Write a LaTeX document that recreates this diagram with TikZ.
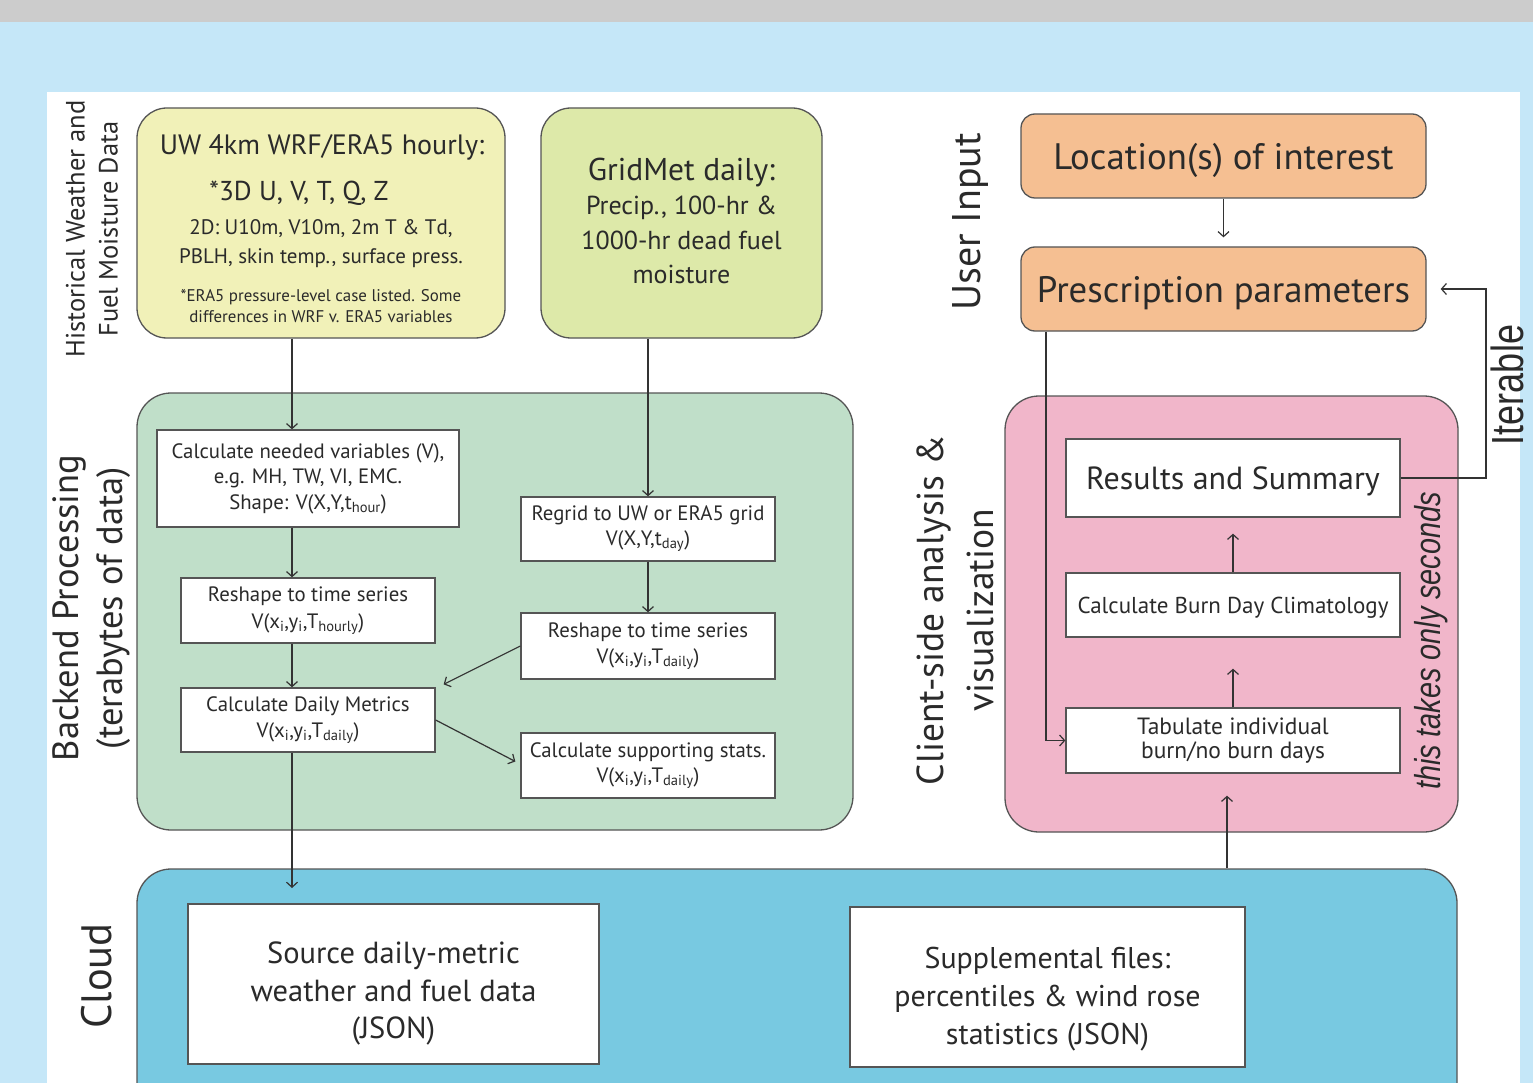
\documentclass[tikz,border=0pt]{standalone}
\usepackage{fontspec}
\setmainfont{PT Sans}
\newfontfamily\condfont[FakeStretch=0.8]{Liberation Sans}
\usetikzlibrary{arrows.meta}
\definecolor{topgray}{HTML}{CCCCCC}
\definecolor{skyblue}{HTML}{C5E7F8}
\definecolor{yelA}{HTML}{F1F1B8}
\definecolor{yelB}{HTML}{DDE9A9}
\definecolor{greenbg}{HTML}{C0DFC9}
\definecolor{cloudbg}{HTML}{78C9E1}
\definecolor{peach}{HTML}{F5BF92}
\definecolor{pinkbg}{HTML}{F1B6CA}
\definecolor{linec}{HTML}{333333}
\definecolor{boxc}{HTML}{555555}
\definecolor{txt}{HTML}{2A2A2A}
\newcommand{\fs}[2]{\fontsize{#1}{#2}\selectfont}
\newcommand{\sbs}[1]{\textsubscript{#1}}
\begin{document}
\begin{tikzpicture}[x=1pt,y=-1pt,
  every node/.style={text=txt},
  group/.style={draw=boxc, line width=1.3pt, rounded corners=34pt, inner sep=0pt},
  ybox/.style={draw=boxc, line width=1.3pt, rounded corners=30pt, inner sep=0pt, align=center},
  pbox/.style={draw=boxc, line width=1.3pt, rounded corners=14pt, fill=peach, inner sep=0pt, text depth=0pt},
  wbox/.style={draw=boxc, line width=1.3pt, fill=white, inner sep=0pt, align=center},
  wbox1/.style={draw=boxc, line width=1.3pt, fill=white, inner sep=0pt, text depth=0pt},
  lbl/.style={rotate=90, align=center},
  arr/.style={draw=linec, line width=1.2pt, -{Straight Barb[length=5pt,width=11pt]}},
  ln/.style={draw=linec, line width=1.2pt}
]
\useasboundingbox (0,0) rectangle (1533,1083);
\clip (0,0) rectangle (1533,1083);
% backgrounds
\fill[skyblue] (0,0) rectangle (1533,1083);
\fill[topgray] (0,0) rectangle (1533,22);
\fill[white] (47,92) rectangle (1520,1083);

% ---------- group containers
\node[group, fill=greenbg, minimum width=716pt, minimum height=437pt] (backend) at (495,611.5) {};
\node[group, fill=pinkbg, minimum width=453pt, minimum height=436pt] (client) at (1231.5,614) {};
\node[group, fill=cloudbg, minimum width=1320pt, minimum height=260pt] (cloud) at (797,999) {};

% ---------- side labels
\node[lbl, font=\fs{26.5}{33}] (lhist) at (92,229) {Historical Weather and\\Fuel Moisture Data};
\node[lbl, font=\fs{36.5}{44}] (lback) at (92,608) {Backend Processing\\(terabytes of data)};
\node[lbl, font=\fs{42.5}{44}] (lcloud) at (97,976) {Cloud};
\node[lbl, font=\fs{40}{44}] (luser) at (970,222) {User Input};
\node[lbl, font=\fs{37.5}{50}] (lclient) at (955,610) {Client-side analysis \&\\visualization};
\node[lbl, font=\condfont\fs{45}{48}] (liter) at (1507,385) {Iterable};
\node[lbl, font=\condfont\itshape\fs{36}{40}] (lsec) at (1431,641) {this takes only seconds};

% ---------- data sources
\node[ybox, fill=yelA, minimum width=368pt, minimum height=230pt] (wrf) at (321,223) {};
\node[font=\fs{28}{30}] (wrf1) at (322,147) {UW 4km WRF/ERA5 hourly:};
\node[font=\fs{27.3}{30}] (wrf2) at (299,193) {*3D U, V, T, Q, Z};
\node[font=\fs{21}{29}, align=center] (wrf3) at (321,243.5) {2D: U10m, V10m, 2m T \& Td,\\PBLH, skin temp., surface press.};
\node[font=\fs{16.9}{21}, align=center] (wrf4) at (321,306.5) {*ERA5 pressure-level case listed. Some\\differences in WRF v. ERA5 variables};

\node[ybox, fill=yelB, minimum width=281pt, minimum height=230pt] (grid) at (681.5,223) {};
\node[align=center, font=\fs{26}{34.5}] (gridt) at (681.5,221) {{\fs{31.5}{34.5}GridMet daily:}\\Precip., 100-hr \&\\1000-hr dead fuel\\moisture};

% ---------- backend boxes
\node[wbox, font=\fs{20.8}{25.5}, minimum width=302pt, minimum height=97pt] (calc) at (308,478.5)
  {Calculate needed variables (V),\\e.g. MH, TW, VI, EMC.\\Shape: V(X,Y,t\sbs{hour})};
\node[wbox, font=\fs{20.8}{27}, minimum width=254pt, minimum height=65pt] (reshH) at (308,610.5)
  {Reshape to time series\\V(x\sbs{i},y\sbs{i},T\sbs{hourly})};
\node[wbox, font=\fs{20.8}{26}, minimum width=254pt, minimum height=64pt] (daily) at (308,720)
  {Calculate Daily Metrics\\V(x\sbs{i},y\sbs{i},T\sbs{daily})};
\node[wbox, font=\fs{20.8}{25}, minimum width=254pt, minimum height=64pt] (regrid) at (648,529)
  {Regrid to UW or ERA5 grid\\V(X,Y,t\sbs{day})};
\node[wbox, font=\fs{20.8}{26}, minimum width=254pt, minimum height=66pt] (reshD) at (648,646)
  {Reshape to time series\\V(x\sbs{i},y\sbs{i},T\sbs{daily})};
\node[wbox, font=\fs{20.8}{25}, minimum width=254pt, minimum height=65pt] (supp) at (648,765.5)
  {Calculate supporting stats.\\V(x\sbs{i},y\sbs{i},T\sbs{daily})};

% ---------- cloud boxes
\node[wbox, font=\fs{30.5}{37.5}, minimum width=411pt, minimum height=160pt] (src) at (393.5,984)
  {\rule{0pt}{41pt}Source daily-metric\\weather and fuel data\\(JSON)};
\node[wbox, font=\fs{30}{38}, minimum width=395pt, minimum height=160pt] (supl) at (1047.5,987)
  {\rule{0pt}{46pt}Supplemental files:\\percentiles \& wind rose\\statistics (JSON)};

% ---------- user input
\node[pbox, font=\fs{36.8}{40}, minimum width=405pt, minimum height=84pt] (loc) at (1223.5,156) {Location(s) of interest};
\node[pbox, font=\fs{36.8}{40}, minimum width=405pt, minimum height=84pt] (presc) at (1223.5,289) {Prescription parameters};

% ---------- client boxes
\node[wbox1, font=\fs{32}{34}, minimum width=334pt, minimum height=78pt] (res) at (1233,478) {Results and Summary};
\node[wbox1, font=\fs{23}{26}, minimum width=334pt, minimum height=64pt] (clim) at (1233,605) {Calculate Burn Day Climatology};
\node[wbox, font=\fs{23.5}{24.5}, minimum width=334pt, minimum height=65pt] (tab) at (1233,740.5) {Tabulate individual\\burn/no burn days};

% ---------- helper coordinates
\coordinate (colL) at (292,0);
\coordinate (cloudin) at (292,888);
\coordinate (pl) at (1046,0);
\coordinate (itx) at (1486,0);
\coordinate (cup) at (1227,0);

% ---------- connectors
\draw[arr] (wrf.south -| colL) -- (calc.north -| colL);
\draw[arr] (calc.south -| colL) -- (reshH.north -| colL);
\draw[arr] (reshH.south -| colL) -- (daily.north -| colL);
\draw[arr] (daily.south -| colL) -- (cloudin);
\draw[arr] (grid.south -| regrid.north) -- (regrid.north);
\draw[arr] (regrid.south) -- (reshD.north);
\draw[arr] (reshD.west) -- ([xshift=8pt,yshift=3pt]daily.north east);
\draw[arr] (daily.east) -- ([xshift=-5pt,yshift=4pt]supp.west);

\draw[arr, shorten >=9pt] (loc.south) -- (presc.north);
\draw[arr] (presc.south -| pl) |- (tab.west);
\draw[arr, shorten >=14pt] (res.east) -| (itx |- presc.east) -- (presc.east);
\draw[arr, shorten >=16pt] (clim.north) -- (res.south);
\draw[arr, shorten >=31pt] (tab.north) -- (clim.south);
\draw[arr, shorten >=22pt] (cloud.north -| cup) -- (tab.south -| cup);
\end{tikzpicture}
\end{document}
